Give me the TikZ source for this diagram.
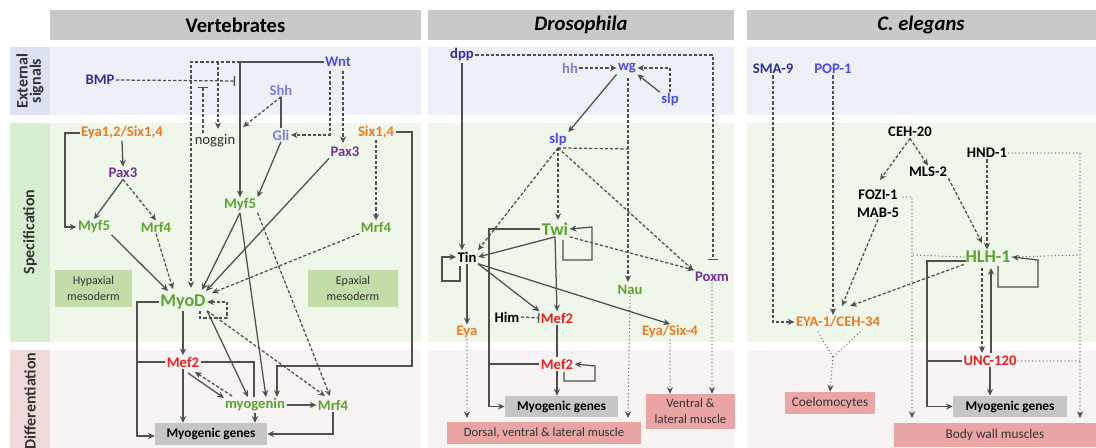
\documentclass[tikz,border=0pt]{standalone}
\usepackage{fontspec}
\setmainfont{Carlito}
\usetikzlibrary{arrows.meta,calc}
\definecolor{linec}{HTML}{505050}
\definecolor{cdblue}{HTML}{2E2EA8}
\definecolor{cblue}{HTML}{4B4BF0}
\definecolor{clblue}{HTML}{7B7BEB}
\definecolor{corange}{HTML}{F27A1E}
\definecolor{cpurple}{HTML}{7030A0}
\definecolor{cgreen}{HTML}{5BA52E}
\definecolor{cred}{HTML}{F21F1F}
\definecolor{hdr}{HTML}{C9C9C9}
\definecolor{extbg}{HTML}{EEF0F8}
\definecolor{specbg}{HTML}{EFF6EA}
\definecolor{diffbg}{HTML}{F8F4F3}
\definecolor{extlab}{HTML}{DCE2F2}
\definecolor{speclab}{HTML}{D7EFD0}
\definecolor{difflab}{HTML}{F0DADA}
\definecolor{mesoc}{HTML}{C4DDA8}
\definecolor{pinkc}{HTML}{EAA5A5}
\definecolor{grayc}{HTML}{C6C6C6}
\definecolor{txtgray}{HTML}{333333}
\tikzset{
 g/.style={font=\fontsize{11}{13}\selectfont\bfseries, inner sep=1pt},
 big/.style={font=\fontsize{13.5}{16}\selectfont\bfseries, inner sep=1pt},
 hdrtext/.style={font=\fontsize{15.5}{18}\selectfont\bfseries},
 rowlab/.style={font=\fontsize{12}{13}\selectfont\bfseries, rotate=90, align=center, text=txtgray},
 con/.style={draw=linec, line width=0.95pt},
 arr/.style={con, -{Stealth[length=5pt,width=4.6pt]}},
 dsh/.style={arr, dash pattern=on 2.4pt off 1.5pt},
 dshl/.style={con, dash pattern=on 2.4pt off 1.5pt},
 dot/.style={arr, line cap=round, dash pattern=on 0pt off 2.7pt},
 dotl/.style={con, line cap=round, dash pattern=on 0pt off 2.7pt},
 inh/.style={con, -{Bar[width=7.5pt]}},
 inhd/.style={inh, dash pattern=on 2.4pt off 1.5pt},
 boxn/.style={inner sep=0pt, align=center, text=txtgray},
 gbox/.style={boxn, fill=grayc, font=\fontsize{10}{12}\selectfont\bfseries, text=black},
 meso/.style={boxn, fill=mesoc, font=\fontsize{9}{12.5}\selectfont},
 pbox/.style={boxn, fill=pinkc, font=\fontsize{9.5}{12}\selectfont},
}
\begin{document}
\begin{tikzpicture}[x=0.75pt,y=-0.75pt]
\useasboundingbox (0,0) rectangle (1096,448);
% headers
\fill[hdr] (50,10) rectangle (421,40);
\fill[hdr] (428,10) rectangle (734,40);
\fill[hdr] (747,10) rectangle (1096,40);
\node[hdrtext] (hV) at (235.5,25) {Vertebrates};
\node[hdrtext] (hD) at (581,25) {\itshape Drosophila};
\node[hdrtext] (hC) at (921,25) {\itshape C. elegans};
% row labels
\fill[extlab] (10,47) rectangle (50,115);
\fill[speclab] (10,123) rectangle (50,342);
\fill[difflab] (10,350) rectangle (50,448);
\node[rowlab] (lE) at (30,81) {External\\[-3pt]signals};
\node[rowlab] (lS) at (30,232) {Specification};
\node[rowlab] (lD) at (30,401) {Differentiation};
% bands
\foreach \xa/\xb in {50/421,428/734,747/1096}{
 \fill[extbg] (\xa,47) rectangle (\xb,115);
 \fill[specbg] (\xa,123) rectangle (\xb,342);
 \fill[diffbg] (\xa,350) rectangle (\xb,448);
}
% ================= Vertebrates =================
\node[meso, minimum width=57.75pt, minimum height=27.75pt] (Hyp) at (93.5,288.5) {Hypaxial\\mesoderm};
\node[meso, minimum width=67.5pt, minimum height=27.75pt] (Epa) at (353,288.5) {Epaxial\\mesoderm};
\node[gbox, minimum width=84pt, minimum height=16.5pt] (MGV) at (211,434) {Myogenic genes};

\node[g, text=cdblue] (BMP) at (100,80) {BMP};
\node[g, text=cblue] (Wnt) at (338,62) {Wnt};
\node[g, text=clblue] (Shh) at (281,90) {Shh};
\node[g, text=clblue] (Gli) at (281,135) {Gli};
\node[font=\fontsize{11}{13}\selectfont, inner sep=1pt, text=txtgray] (noggin) at (215,141) {noggin};
\node[g, text=corange] (Eya) at (122,133) {Eya1,2/Six1,4};
\node[g, text=corange] (Six) at (376,132) {Six1,4};
\node[g, text=cpurple] (PaxL) at (123,173) {Pax3};
\node[g, text=cpurple] (PaxR) at (345,152) {Pax3};
\node[g, text=cgreen] (MyfL) at (94,227) {Myf5};
\node[g, text=cgreen] (MrfL) at (156,227) {Mrf4};
\node[g, text=cgreen] (MyfC) at (240,205) {Myf5};
\node[g, text=cgreen] (MrfR) at (376,227) {Mrf4};
\node[big, text=cgreen] (MyoD) at (183,302) {MyoD};
\node[g, text=cred] (Mef2V) at (183,362) {Mef2};
\node[g, text=cgreen] (myog) at (255,405) {myogenin};
\node[g, text=cgreen] (MrfD) at (333,405) {Mrf4};

\coordinate (bmpT) at (235,81);
\coordinate (wj) at (240,62);
\draw[inhd] (BMP.east) -- (bmpT);
\draw[arr] (Wnt.west) -| (MyfC.north);
\draw[dsh] (wj) -- (191,62) -- (191,288);
\draw[dsh] (218,62) -- (218,129);
\draw[inhd] (203,133) -- (203,87);
\draw[con] (Shh.south) -- (Gli.north);
\draw[dsh] (Shh.south) -- (243,127);
\draw[dsh] (330,71) |- (Gli.east);
\draw[dsh] (343,71) -- (343,143);
\draw[arr] (Gli.south) -- (MyfC.north east);
\draw[dsh] (Six.south) -- (MrfR.north);
\draw[arr] (Six.east) -| (412,366) -| (277,397);
\draw[arr] (PaxR.south west) -- (206,291);
\draw[dsh] (MrfR.south west) -- (212,293);
\draw[arr] (MyfC.south) -- (202,290);
\draw[arr] (MyfC.south) -- (266,397);
\draw[dsh] (MyfC.south east) -- (330,396);
\draw[arr] (MyoD.south) -- (Mef2V.north);
\draw[arr] (MyoD.south east) -- (248,397);
\draw[dsh] (MyoD.south east) -- (325,396);
\draw[dsh] (200,311) -- (200,318) -- (227,318) -- (227,302) -- (MyoD.east);
\draw[arr] (MyoD.west) -| (137,436) -- (MGV.west |- 0,436);
\draw[con] (Mef2V.west) -- (137,362);
\draw[arr] (Mef2V.south) -- (Mef2V.south |- MGV.north);
\draw[arr] (188,373) -- (224,398);
\draw[dsh] (232,396) -- (195,372);
\draw[con] (Mef2V.east) -| (254,397);
\draw[arr] (myog.south) -- (myog.south |- MGV.north);
\draw[arr] (myog.east) -- (MrfD.west);
\draw[arr] (MrfD.south) |- (MGV.east);
\draw[arr] (Eya.west) -- (65,133) |- (MyfL.west);
\draw[arr] (Eya.south) -- (PaxL.north);
\draw[arr] (PaxL.south) -- (MyfL.north);
\draw[dsh] (PaxL.south) -- (MrfL.north);
\draw[arr] (MyfL.south east) -- (168,291);
\draw[dsh] (MrfL.south) -- (173,289);

% ================= Drosophila =================
\node[gbox, minimum width=85pt, minimum height=15.75pt] (MGD) at (561.5,406.5) {Myogenic genes};
\node[pbox, minimum width=145.5pt, minimum height=16.5pt] (Dors) at (544,433) {Dorsal, ventral \& lateral muscle};
\node[pbox, minimum width=66.75pt, minimum height=26.25pt] (Vent) at (690.5,411.5) {Ventral \&\\lateral muscle};

\node[g, text=cdblue] (dpp) at (462,55) {dpp};
\node[g, text=clblue] (hh) at (570,68) {hh};
\node[g, text=cblue] (wg) at (627,68) {wg};
\node[g, text=cblue] (slpT) at (670,100) {slp};
\node[g, text=cblue] (slpS) at (558,140) {slp};
\node[big, text=cgreen] (Twi) at (555,229) {Twi};
\node[g, text=black] (Tin) at (467,257) {Tin};
\node[g, text=cgreen] (Nau) at (630,290) {Nau};
\node[g, text=cpurple] (Poxm) at (712,277) {Poxm};
\node[g, text=corange] (EyaD) at (467,332) {Eya};
\node[g, text=black] (Him) at (507,317) {Him};
\node[g, text=cred] (Mef2S) at (557,318) {Mef2};
\node[g, text=corange] (EyaSix) at (670,332) {Eya/Six-4};
\node[g, text=cred] (Mef2D) at (557,364) {Mef2};

\draw[inhd] (dpp.east) -| (713,260);
\draw[arr] (dpp.south) -- (dpp.south |- Tin.north);
\draw[dsh] (hh.east) -- (wg.west);
\draw[dsh] (slpT.north) |- (wg.east);
\draw[arr] (slpT.north west) -- (wg.south east);
\draw[arr] (wg.south west) -- (slpS.north east);
\draw[dsh] (628,78) -- (628,282);
\draw[dshl] (slpS.south) -- (628,149);
\draw[dsh] (slpS.south) -- (Tin.north east);
\draw[dsh] (slpS.south) -- (558,220);
\draw[dsh] (slpS.south) -- (Poxm.north west);
\draw[arr] (563,240) -- (563,260) -- (592,260) -- (592,227) -- (Twi.east);
\draw[arr] (Twi.south) -- (Tin.east);
\draw[dsh] (Twi.south east) -- (694,270);
\draw[arr] (Twi.south) -- (Mef2S.north);
\draw[arr] (Twi.west) -| (489,406.5) -- (MGD.west);
\draw[con] (Mef2D.west) -- (489,364);
\draw[arr] (460,266) -- (460,281) -- (442,281) -- (442,257) -- (Tin.west);
\draw[arr] (Tin.south) -- (EyaD.north);
\draw[arr] (Tin.south east) -- (Mef2S.north west);
\draw[arr] (Tin.south east) -- (EyaSix.north);
\draw[inhd] (Him.east) -- (Mef2S.west);
\draw[con] (Mef2S.south) -- (Mef2D.north);
\draw[arr] (564,372) -- (564,381) -- (595,381) -- (595,366) -- (Mef2D.east);
\draw[arr] (Mef2D.south) -- (Mef2D.south |- MGD.north);
\draw[dot] (EyaD.south) -- (467,418);
\draw[dot] (Nau.south) -- (628,418);
\draw[dot] (EyaSix.south) -- (EyaSix.south |- Vent.north);
\draw[dot] (Poxm.south) -- (Poxm.south |- Vent.north);

% ================= C. elegans =================
\node[gbox, minimum width=85.5pt, minimum height=15.75pt] (MGC) at (1010,406.5) {Myogenic genes};
\node[pbox, minimum width=67.5pt, minimum height=16.5pt, font=\fontsize{10}{12}\selectfont] (Coel) at (830,403) {Coelomocytes};
\node[pbox, minimum width=151.5pt, minimum height=18pt, font=\fontsize{10}{12}\selectfont] (BWM) at (995,435) {Body wall muscles};

\node[g, text=cdblue] (SMA) at (773,69) {SMA-9};
\node[g, text=cblue] (POP) at (833,69) {POP-1};
\node[g, text=black] (CEH) at (910,132) {CEH-20};
\node[g, text=black] (HND) at (987,153) {HND-1};
\node[g, text=black] (MLS) at (928,172) {MLS-2};
\node[g, text=black, align=center, font=\fontsize{11}{13.5}\selectfont\bfseries] (FOZ) at (878,204) {FOZI-1\\MAB-5};
\node[big, text=cgreen] (HLH) at (988,257) {HLH-1};
\node[g, text=corange] (EYA) at (838,322) {EYA-1/CEH-34};
\node[g, text=cred] (UNC) at (990,361) {UNC-120};

\draw[dsh] (SMA.south) |- (EYA.west);
\draw[dsh] (POP.south) -- (POP.south |- EYA.north);
\draw[dsh] (CEH.south) -- (880,180);
\draw[dsh] (CEH.south) -- (MLS.north);
\draw[dsh] (MLS.south east) -- (982,243);
\draw[dsh] (HND.south) -- (HND.south |- HLH.north);
\draw[dot] (HND.east) -| (1080,418);
\draw[dot] (903,197) -| (912,418);
\draw[dsh] (FOZ.south) -- (842,306);
\draw[dotl] (HLH.west) -- (913,255);
\draw[dotl] (HLH.east) -- (1080,255);
\draw[dsh] (HLH.south west) -- (850,306);
\draw[arr] (998,266) -- (998,287) -- (1038,287) -- (1038,260) -- (HLH.east);
\draw[arr] (966,261) -| (927,406.5) -- (MGC.west);
\draw[con] (UNC.west) -- (927,361);
\draw[dsh] (982,268) -- (982,353);
\draw[arr] (991,353) -- (991,268);
\draw[dotl] (UNC.east) -- (1080,361);
\draw[arr] (UNC.south) -- (UNC.south |- MGC.north);
\coordinate (vjoin) at (833,357);
\draw[dotl] (818,332) -- (vjoin);
\draw[dotl] (860,332) -- (vjoin);
\draw[dot] (vjoin) -- (Coel.north);
\end{tikzpicture}
\end{document}
